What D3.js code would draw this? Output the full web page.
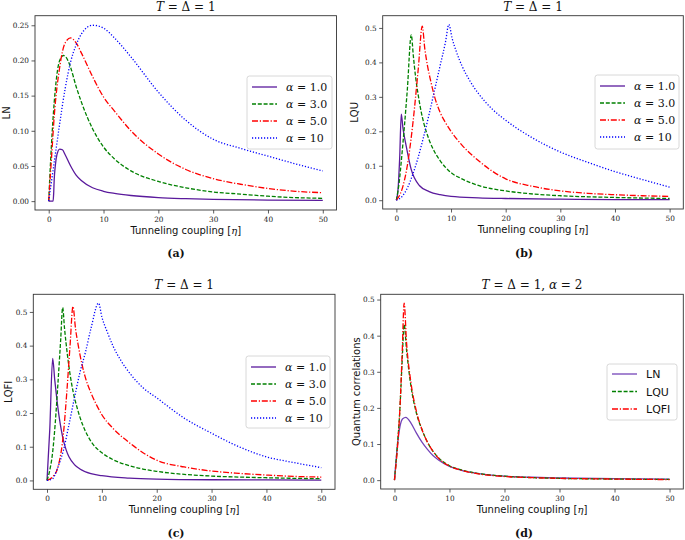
<!DOCTYPE html>
<html><head><meta charset="utf-8">
<script src="https://cdn.jsdelivr.net/npm/d3@7"></script>
<style>body{margin:0;background:#fff}svg{display:block}</style>
</head><body><svg id="c" width="685" height="540"></svg>
<script>
// ---------- data ----------
const xTicks = [0, 10, 20, 30, 40, 50];
const yTicksA = [0, 0.05, 0.10, 0.15, 0.20, 0.25];
const yTicksB = [0, 0.1, 0.2, 0.3, 0.4, 0.5];
const alphaLabels = ["1.0", "3.0", "5.0", "10"];
const measureLabels = ["LN", "LQU", "LQFI"];
const panelLetters = ["(a)", "(b)", "(c)", "(d)"];
const yAxisLabels = ["LN", "LQU", "LQFI", "Quantum correlations"];

// (a) LN vs eta
const aX1 = [0, 0.8, 0.9, 1.0, 1.2, 1.5, 2.0, 2.5, 3, 4, 5, 6, 8, 10, 12, 15, 20, 25, 30, 40, 50];
const aY1 = [0, 0, 0.01, 0.03, 0.05, 0.066, 0.074, 0.073, 0.066, 0.050, 0.037, 0.029, 0.019, 0.014, 0.011, 0.008, 0.005, 0.0035, 0.0025, 0.0015, 0.001];
const aX3 = [0, 0.5, 1, 1.5, 2, 2.7, 3.5, 4, 5, 6, 7, 8, 10, 12, 15, 20, 25, 30, 35, 40, 45, 50];
const aY3 = [0, 0.08, 0.14, 0.18, 0.2, 0.207, 0.2, 0.19, 0.163, 0.14, 0.12, 0.103, 0.077, 0.06, 0.043, 0.028, 0.019, 0.013, 0.010, 0.007, 0.005, 0.004];
const aX5 = [0, 0.5, 1, 2, 3, 4, 5, 6, 8, 10, 12, 15, 20, 25, 30, 35, 40, 45, 50];
const aY5 = [0, 0.06, 0.12, 0.19, 0.225, 0.232, 0.225, 0.21, 0.177, 0.148, 0.128, 0.10, 0.067, 0.045, 0.032, 0.024, 0.018, 0.014, 0.012];
const aX10 = [0, 1, 2, 3, 4, 5, 6, 7, 8, 9, 10, 12, 15, 20, 25, 30, 35, 40, 45, 50];
const aY10 = [0, 0.055, 0.11, 0.16, 0.198, 0.222, 0.238, 0.247, 0.25, 0.249, 0.246, 0.232, 0.205, 0.155, 0.115, 0.088, 0.075, 0.064, 0.053, 0.043];

// (b) LQU vs eta
const bX1 = [0, 0.3, 0.6, 0.9, 1.2, 1.8, 2.7, 4.25, 6, 8, 10, 15, 20, 30, 40, 50];
const bY1 = [0, 0.03, 0.12, 0.25, 0.21, 0.157, 0.09, 0.042, 0.025, 0.016, 0.011, 0.007, 0.005, 0.003, 0.002, 0.0015];
const bX3 = [0, 0.5, 1, 1.5, 2, 2.73, 3.1, 3.5, 4, 4.5, 5, 6, 7, 8, 10, 12, 15, 20, 25, 30, 40, 50];
const bY3 = [0, 0.05, 0.13, 0.22, 0.32, 0.48, 0.42, 0.36, 0.305, 0.26, 0.225, 0.175, 0.14, 0.115, 0.08, 0.062, 0.043, 0.027, 0.018, 0.013, 0.008, 0.005];
const bX5 = [0, 1, 2, 3, 4, 4.74, 5.2, 5.7, 6.3, 7, 8, 9, 10, 12, 15, 20, 25, 30, 35, 40, 45, 50];
const bY5 = [0, 0.03, 0.1, 0.22, 0.38, 0.505, 0.44, 0.39, 0.345, 0.3, 0.255, 0.225, 0.2, 0.16, 0.115, 0.062, 0.04, 0.027, 0.02, 0.016, 0.013, 0.011];
const bX10 = [0, 1, 2, 3, 4, 5, 6, 7, 8, 9, 9.6, 10.2, 11, 12, 13.5, 15, 17.5, 20, 25, 30, 35, 40, 45, 50];
const bY10 = [0, 0.01, 0.035, 0.075, 0.125, 0.185, 0.25, 0.32, 0.39, 0.46, 0.51, 0.47, 0.43, 0.39, 0.345, 0.31, 0.265, 0.232, 0.18, 0.14, 0.11, 0.083, 0.06, 0.038];

// (c) LQFI vs eta
const cX1 = [0, 0.5, 1.03, 1.4, 1.8, 2.2, 2.6, 3, 3.5, 4, 5, 6, 8, 10, 15, 20, 30, 40, 50];
const cY1 = [0, 0.15, 0.362, 0.30, 0.24, 0.19, 0.15, 0.118, 0.09, 0.07, 0.047, 0.034, 0.02, 0.014, 0.007, 0.004, 0.002, 0.0015, 0.001];
const cX3 = [0, 0.5, 1, 1.5, 2, 2.5, 2.85, 3.2, 3.7, 4.2, 4.8, 5.5, 6.5, 7.5, 8.5, 10, 12, 15, 20, 25, 30, 40, 50];
const cY3 = [0, 0.03, 0.08, 0.17, 0.29, 0.42, 0.513, 0.45, 0.375, 0.315, 0.26, 0.215, 0.165, 0.13, 0.105, 0.082, 0.062, 0.044, 0.027, 0.018, 0.013, 0.008, 0.005];
const cX5 = [0, 1, 2, 3, 3.6, 4.2, 4.73, 5.2, 5.7, 6.3, 7, 8, 9, 10, 12, 15, 20, 25, 30, 35, 40, 45, 50];
const cY5 = [0, 0.01, 0.04, 0.14, 0.26, 0.4, 0.516, 0.45, 0.4, 0.35, 0.305, 0.26, 0.225, 0.195, 0.155, 0.112, 0.06, 0.04, 0.028, 0.021, 0.016, 0.012, 0.01];
const cX10 = [0, 1, 2, 3, 4, 5, 6, 7, 8, 9.4, 10, 11, 12, 13.5, 15, 17.5, 20, 25, 30, 35, 40, 45, 50];
const cY10 = [0, 0.005, 0.04, 0.09, 0.165, 0.245, 0.32, 0.38, 0.45, 0.526, 0.485, 0.44, 0.40, 0.355, 0.32, 0.275, 0.245, 0.185, 0.14, 0.1, 0.07, 0.053, 0.038];

// (d) alpha = 2, three measures
const dXLN = [0, 0.5, 1, 1.5, 2.06, 3, 4, 5, 6, 7, 8, 10, 12, 15, 20, 25, 30, 40, 50];
const dYLN = [0, 0.09, 0.148, 0.17, 0.174, 0.158, 0.13, 0.105, 0.085, 0.068, 0.056, 0.038, 0.028, 0.019, 0.011, 0.008, 0.006, 0.004, 0.003];
const dXLQU = [0, 0.5, 1, 1.4, 1.76, 2.2, 3, 4, 5, 6, 7, 8, 10, 12, 15, 20, 25, 30, 40, 50];
const dYLQU = [0, 0.09, 0.2, 0.33, 0.431, 0.36, 0.26, 0.185, 0.14, 0.105, 0.08, 0.062, 0.04, 0.029, 0.019, 0.011, 0.007, 0.005, 0.003, 0.002];
const dXLQFI = [0, 0.5, 1, 1.4, 1.76, 2.2, 3, 4, 5, 6, 7, 8, 10, 12, 15, 20, 25, 30, 40, 50];
const dYLQFI = [0, 0.08, 0.2, 0.35, 0.49, 0.38, 0.27, 0.19, 0.14, 0.105, 0.08, 0.061, 0.039, 0.028, 0.018, 0.01, 0.007, 0.005, 0.003, 0.0015];

// ---------- styles ----------
const PURPLE = "#5a1a9c", PURPLE_D = "#7444b8", GREEN = "#008000", RED = "#ff0000", BLUE = "#0000ff";
const styles = [
  {color: PURPLE, dash: null},
  {color: GREEN, dash: "4,1.8"},
  {color: RED, dash: "6,1.8,1.2,1.8"},
  {color: BLUE, dash: "1.2,1.8"}
];

const panels = [
  {box: [35, 336.5, 15.7, 210], yDom: [-0.0126, 0.2636], yTicks: yTicksA, fmt: d3.format(".2f"),
   series: [[aX1, aY1], [aX3, aY3], [aX5, aY5], [aX10, aY10]], labels: alphaLabels.map(a => ["α", a]),
   legend: [247, 76, 85, 73], title: "a", ylx: 10},
  {box: [382.7, 683.3, 15.7, 209], yDom: [-0.0255, 0.5355], yTicks: yTicksB, fmt: d3.format(".1f"),
   series: [[bX1, bY1], [bX3, bY3], [bX5, bY5], [bX10, bY10]], labels: alphaLabels.map(a => ["α", a]),
   legend: [595, 75, 84, 74], title: "a", ylx: 357.5},
  {box: [33.3, 335, 294.3, 489.3], yDom: [-0.0263, 0.5523], yTicks: yTicksB, fmt: d3.format(".1f"),
   series: [[cX1, cY1], [cX3, cY3], [cX5, cY5], [cX10, cY10]], labels: alphaLabels.map(a => ["α", a]),
   legend: [246, 356, 84, 72], title: "a", ylx: 12},
  {box: [380.7, 683.3, 294.3, 489], yDom: [-0.0245, 0.5145], yTicks: yTicksB, fmt: d3.format(".1f"),
   series: [[dXLN, dYLN], [dXLQU, dYLQU], [dXLQFI, dYLQFI]], labels: measureLabels.map(m => [null, m]),
   legend: [607, 364, 70, 56], title: "d", ylx: 359.5}
];

const svg = d3.select("#c");
svg.append("rect").attr("width", 685).attr("height", 540).attr("fill", "#fff");

panels.forEach((p, pi) => {
  const [L, R, T, B] = p.box;
  const x = d3.scaleLinear().domain([-2.5, 52.5]).range([L, R]);
  const y = d3.scaleLinear().domain(p.yDom).range([B, T]);
  const g = svg.append("g");

  const cid = "clip" + pi;
  g.append("clipPath").attr("id", cid).append("rect").attr("x", L).attr("y", T).attr("width", R - L).attr("height", B - T);

  const line = d3.line().x(d => x(d[0])).y(d => y(d[1])).curve(d3.curveMonotoneX);
  p.series.forEach((s, si) => {
    const pts = s[0].map((v, i) => [v, s[1][i]]);
    const st = styles[si];
    const col = (pi === 3 && si === 0) ? PURPLE_D : st.color;
    g.append("path").attr("d", line(pts)).attr("fill", "none").attr("stroke", col)
      .attr("stroke-width", 1.3).attr("stroke-dasharray", st.dash).attr("clip-path", `url(#${cid})`);
  });

  const xa = g.append("g").attr("transform", `translate(0,${B})`)
    .call(d3.axisBottom(x).tickValues(xTicks).tickSize(3.5).tickPadding(3).tickFormat(d3.format("d")));
  const ya = g.append("g").attr("transform", `translate(${L},0)`)
    .call(d3.axisLeft(y).tickValues(p.yTicks).tickSize(3.5).tickPadding(2.5).tickFormat(p.fmt));
  [xa, ya].forEach(a => {
    a.select(".domain").remove();
    a.selectAll("line").attr("stroke", "#333").attr("stroke-width", 0.8);
    a.selectAll("text").attr("font-family", "DejaVu Serif").attr("font-size", 7.3).attr("fill", "#222");
  });
  g.append("rect").attr("x", L).attr("y", T).attr("width", R - L).attr("height", B - T)
    .attr("fill", "none").attr("stroke", "#333").attr("stroke-width", 0.9);

  const cx = (L + R) / 2;
  const tt = g.append("text").attr("x", cx).attr("y", T - 5).attr("text-anchor", "middle")
    .attr("font-family", "DejaVu Serif").attr("font-size", 12).attr("fill", "#111");
  tt.append("tspan").attr("font-style", "italic").text("T");
  tt.append("tspan").text(" = Δ = 1");
  if (p.title === "d") {
    tt.append("tspan").text(", ");
    tt.append("tspan").attr("font-style", "italic").text("α");
    tt.append("tspan").text(" = 2");
  }

  const xl = g.append("text").attr("x", cx).attr("y", B + 24).attr("text-anchor", "middle")
    .attr("font-family", "DejaVu Sans").attr("font-size", 10).attr("fill", "#111");
  xl.append("tspan").text("Tunneling coupling [");
  xl.append("tspan").attr("font-family", "DejaVu Serif").attr("font-style", "italic").text("η");
  xl.append("tspan").text("]");

  g.append("text").attr("transform", `translate(${p.ylx},${(T + B) / 2}) rotate(-90)`)
    .attr("text-anchor", "middle").attr("font-family", "DejaVu Sans").attr("font-size", 10).attr("fill", "#111")
    .text(yAxisLabels[pi]);

  const lx = pi % 2 === 0 ? 176 : 524;
  const ly = pi < 2 ? 257 : 537;
  g.append("text").attr("x", lx).attr("y", ly).attr("text-anchor", "middle")
    .attr("font-family", "DejaVu Serif").attr("font-weight", "bold").attr("font-size", 11).attr("fill", "#111")
    .text(panelLetters[pi]);

  const [lgx, lgy, lgw, lgh] = p.legend;
  const lg = g.append("g");
  lg.append("rect").attr("x", lgx).attr("y", lgy).attr("width", lgw).attr("height", lgh).attr("rx", 2.5)
    .attr("fill", "#fff").attr("fill-opacity", 0.85).attr("stroke", "#d4d4d4").attr("stroke-width", 0.9);
  const step = pi === 3 ? 17.5 : 17;
  const y0 = lgy + (pi === 3 ? 10 : 11);
  p.labels.forEach((lab, i) => {
    const yy = y0 + i * step;
    const st = styles[i];
    const col = (pi === 3 && i === 0) ? PURPLE_D : st.color;
    lg.append("line").attr("x1", lgx + 5).attr("x2", lgx + 30).attr("y1", yy).attr("y2", yy)
      .attr("stroke", col).attr("stroke-width", 1.3).attr("stroke-dasharray", st.dash);
    const t = lg.append("text").attr("x", lgx + 39).attr("y", yy + 4).attr("fill", "#111");
    if (lab[0]) {
      t.attr("font-family", "DejaVu Serif").attr("font-size", 11);
      t.append("tspan").attr("font-style", "italic").text(lab[0]);
      t.append("tspan").text(" = " + lab[1]);
    } else {
      t.attr("font-family", "DejaVu Sans").attr("font-size", 11).text(lab[1]);
    }
  });
});
</script></body></html>
